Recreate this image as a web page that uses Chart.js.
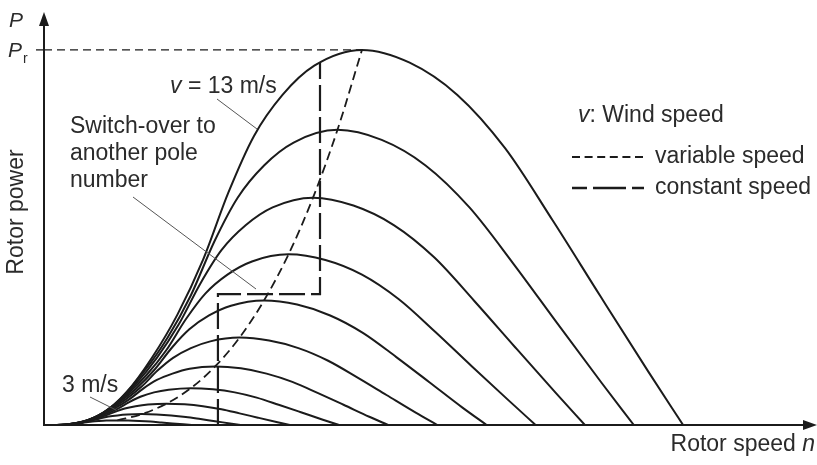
<!DOCTYPE html>
<html>
<head>
<meta charset="utf-8">
<script src="https://cdn.jsdelivr.net/npm/chart.js@4/dist/chart.umd.min.js"></script>
<style>
  html, body { margin: 0; padding: 0; background: #fff; }
  canvas { display: block; }
</style>
</head>
<body>
<canvas id="chart" width="817" height="465"></canvas>
<script>
// Wind speeds (m/s) of the rotor power curves
const windSpeeds = [3, 4, 5, 6, 7, 8, 9, 10, 11, 12, 13];

// Rotor power curves: [rotor speed n, rotor power P], both relative to rated values (%)
const curve3  = [[2.4,0],[4.2,0.03],[6,0.11],[7.8,0.22],[9.7,0.36],[11.5,0.54],[13.4,0.76],[15.2,0.95],[17.3,1.08],[19.6,1.18],[23.1,1.23],[26.5,1.19],[30,1.08],[33.5,0.91],[36.9,0.67],[40.4,0.42],[43.8,0.18],[46.4,0]];
const curve4  = [[3.2,0],[5.5,0.08],[8,0.26],[10.5,0.52],[12.9,0.86],[15.4,1.28],[17.8,1.8],[20.3,2.24],[23.1,2.56],[26.2,2.79],[30.8,2.91],[35.4,2.81],[40,2.56],[44.6,2.15],[49.2,1.59],[53.8,1],[58.5,0.42],[61.8,0]];
const curve5  = [[4,0],[6.9,0.16],[10,0.5],[13.1,1.02],[16.2,1.68],[19.2,2.5],[22.3,3.5],[25.4,4.4],[28.8,5],[32.7,5.45],[38.5,5.69],[44.2,5.5],[50,5],[55.8,4.2],[61.5,3.1],[67.3,1.95],[73.1,0.81],[77.3,0]];
const curve6  = [[4.8,0],[8.3,0.28],[12,0.87],[15.7,1.77],[19.4,2.9],[23.1,4.3],[26.8,6.1],[30.5,7.6],[34.6,8.7],[39.2,9.4],[46.2,9.8],[53.1,9.5],[60,8.7],[66.9,7.3],[73.8,5.4],[80.8,3.4],[87.7,1.4],[92.8,0]];
const curve7  = [[5.6,0],[9.7,0.44],[14,1.37],[18.3,2.8],[22.6,4.6],[26.9,6.9],[31.2,9.7],[35.5,12],[40.4,13.7],[45.8,15],[53.8,15.6],[61.9,15.1],[70,13.7],[78.1,11.5],[86.2,8.5],[94.2,5.4],[102.3,2.2],[108.2,0]];
const curve8  = [[6.4,0],[11.1,0.65],[16,2.05],[20.9,4.2],[25.8,6.9],[30.8,10.3],[35.7,14.5],[40.6,17.9],[46.2,20.5],[52.3,22.3],[61.5,23.3],[70.8,22.5],[80,20.5],[89.2,17.2],[98.5,12.7],[107.7,8],[116.9,3.3],[123.7,0]];
const curve9  = [[7.2,0],[12.5,0.9],[18,2.9],[23.5,6],[29.1,9.8],[34.6,14.6],[40.2,20.6],[45.7,25.5],[51.9,29.2],[58.8,31.8],[69.2,33.2],[79.6,32.1],[90,29.2],[100.4,24.5],[110.8,18.1],[121.2,11.4],[131.5,4.7],[139.2,0]];
const curve10 = [[8,0],[13.8,1.3],[20,4],[26.2,8.2],[32.3,13.4],[38.5,20],[44.6,28.2],[50.8,35.1],[57.7,40.1],[65.4,43.6],[76.9,45.5],[88.5,44],[100,40.1],[111.5,33.6],[123.1,24.8],[134.6,15.6],[146.2,6.5],[154.6,0]];
const curve11 = [[8.8,0],[15.2,1.7],[22,5.3],[28.8,10.9],[35.5,17.9],[42.3,26.7],[49.1,37.6],[55.8,46.6],[63.5,53.3],[71.9,58],[84.6,60.6],[97.3,58.5],[110,53.3],[122.7,44.7],[135.4,33],[148.1,20.8],[160.8,8.7],[170.1,0]];
const curve12 = [[9.6,0],[16.6,2.2],[24,6.9],[31.4,14.2],[38.8,23.2],[46.2,34.6],[53.5,48.8],[60.9,60.6],[69.2,69.2],[78.5,75.3],[92.3,78.7],[106.2,76],[120,69.2],[133.8,58],[147.7,42.9],[161.5,27],[175.4,11.2],[185.5,0]];
const curve13 = [[10.4,0],[18,2.8],[26,8.8],[34,18],[42,29.5],[50,44],[58,62],[66,77],[75,88],[85,95.8],[100,100],[115,96.6],[130,88],[145,73.8],[160,54.5],[175,34.3],[190,14.3],[201,0]];

// Operating curve with variable speed (through the power maxima)
const variableSpeed = [[23.1,1.23],[30.8,2.91],[38.5,5.69],[46.2,9.83],[53.8,15.6],[61.5,23.3],[69.2,33.2],[76.9,45.5],[84.6,60.6],[92.3,78.7],[100,100]];
// Operating curve with constant speed and pole switching
const constantSpeed = [[54.7,0],[54.7,34.9],[86.8,34.9],[86.8,96.7]];
// Rated power line
const ratedLine = [[0,100],[100,100]];

const powerCurves = [curve3, curve4, curve5, curve6, curve7, curve8, curve9, curve10, curve11, curve12, curve13];

const INK = '#1b1b1b';
const TEXT = '#2b2b2b';
const FONT = '"Liberation Sans", Arial, Helvetica, sans-serif';
const SIZE = 23;

const toXY = arr => arr.map(([x, y]) => ({ x, y }));

const datasets = windSpeeds.map((v, i) => ({
  label: v + ' m/s',
  data: toXY(powerCurves[i]),
  borderColor: INK,
  borderWidth: 2,
  pointRadius: 0,
  cubicInterpolationMode: 'monotone',
  fill: false
}));

datasets.push({
  label: 'variable speed',
  data: toXY(variableSpeed),
  borderColor: INK,
  borderWidth: 1.8,
  borderDash: [9, 5],
  pointRadius: 0,
  cubicInterpolationMode: 'monotone',
  fill: false
});
datasets.push({
  label: 'constant speed',
  data: toXY(constantSpeed),
  borderColor: INK,
  borderWidth: 2.2,
  borderDash: [26, 6],
  pointRadius: 0,
  tension: 0,
  fill: false
});
datasets.push({
  label: 'rated power',
  data: toXY(ratedLine),
  borderColor: INK,
  borderWidth: 1.3,
  borderDash: [8, 5],
  pointRadius: 0,
  tension: 0,
  fill: false
});

function italicThenNormal(ctx, italicPart, rest, x, y, size) {
  ctx.font = 'italic ' + size + 'px ' + FONT;
  ctx.fillText(italicPart, x, y);
  const w = ctx.measureText(italicPart).width;
  ctx.font = size + 'px ' + FONT;
  ctx.fillText(rest, x + w, y);
}

function italicRight(ctx, normalPart, italicPart, xRight, yBase, size) {
  ctx.textAlign = 'left';
  ctx.font = 'italic ' + size + 'px ' + FONT;
  const wi = ctx.measureText(italicPart).width;
  ctx.font = size + 'px ' + FONT;
  const wn = ctx.measureText(normalPart).width;
  const start = xRight - wi - wn;
  ctx.fillText(normalPart, start, yBase);
  ctx.font = 'italic ' + size + 'px ' + FONT;
  ctx.fillText(italicPart, start + wn, yBase);
}

const decorations = {
  id: 'decorations',
  afterDatasetsDraw(chart) {
    const { ctx, scales: { x, y } } = chart;
    const x0 = x.getPixelForValue(0);
    const y0 = y.getPixelForValue(0);
    const xEnd = x.getPixelForValue(x.max);
    const yTop = y.getPixelForValue(y.max);
    ctx.save();

    // axes with arrow heads
    ctx.strokeStyle = INK;
    ctx.fillStyle = INK;
    ctx.lineWidth = 2;
    ctx.setLineDash([]);
    ctx.beginPath();
    ctx.moveTo(x0, y0 + 1);
    ctx.lineTo(x0, yTop + 12);
    ctx.moveTo(x0 - 1, y0);
    ctx.lineTo(xEnd - 12, y0);
    ctx.stroke();
    ctx.beginPath();
    ctx.moveTo(x0, yTop);
    ctx.lineTo(x0 - 5, yTop + 14);
    ctx.lineTo(x0 + 5, yTop + 14);
    ctx.closePath();
    ctx.fill();
    ctx.beginPath();
    ctx.moveTo(xEnd, y0);
    ctx.lineTo(xEnd - 14, y0 - 5);
    ctx.lineTo(xEnd - 14, y0 + 5);
    ctx.closePath();
    ctx.fill();

    // rated power tick
    const yR = y.getPixelForValue(100);
    ctx.lineWidth = 1.3;
    ctx.beginPath();
    ctx.moveTo(x0 - 8, yR);
    ctx.lineTo(x0, yR);
    ctx.stroke();

    // leader lines
    ctx.strokeStyle = '#555';
    ctx.lineWidth = 1;
    ctx.beginPath();
    ctx.moveTo(217, 99);  ctx.lineTo(257, 129);
    ctx.moveTo(133, 197); ctx.lineTo(256, 289);
    ctx.moveTo(90, 397);  ctx.lineTo(116, 410);
    ctx.stroke();

    // texts
    ctx.fillStyle = TEXT;
    ctx.textBaseline = 'alphabetic';
    ctx.textAlign = 'left';
    ctx.font = 'italic 21px ' + FONT;
    ctx.fillText('P', 9, 27);
    ctx.fillText('P', 8, 57);
    ctx.font = '14px ' + FONT;
    ctx.fillText('r', 23, 63);

    italicThenNormal(ctx, 'v', ' = 13 m/s', 170, 93, SIZE);
    ctx.font = SIZE + 'px ' + FONT;
    ctx.fillText('Switch-over to', 70, 133);
    ctx.fillText('another pole', 70, 160);
    ctx.fillText('number', 70, 187);
    ctx.fillText('3 m/s', 62, 392);

    // legend
    italicThenNormal(ctx, 'v', ': Wind speed', 578, 122, SIZE);
    ctx.font = SIZE + 'px ' + FONT;
    ctx.textBaseline = 'middle';
    ctx.fillText('variable speed', 655, 157);
    ctx.fillText('constant speed', 655, 188);
    ctx.strokeStyle = INK;
    ctx.lineWidth = 2;
    ctx.setLineDash([8, 4.6]);
    ctx.beginPath();
    ctx.moveTo(572, 157); ctx.lineTo(644, 157);
    ctx.stroke();
    ctx.lineWidth = 2.4;
    ctx.setLineDash([33, 6]);
    ctx.lineDashOffset = 18;
    ctx.beginPath();
    ctx.moveTo(572, 188); ctx.lineTo(644, 188);
    ctx.stroke();
    ctx.setLineDash([]);
    ctx.lineDashOffset = 0;

    // axis titles
    ctx.textBaseline = 'alphabetic';
    italicRight(ctx, 'Rotor speed ', 'n', 815, 451, SIZE);
    ctx.save();
    ctx.translate(23, 212);
    ctx.rotate(-Math.PI / 2);
    ctx.textAlign = 'center';
    ctx.font = SIZE + 'px ' + FONT;
    ctx.fillText('Rotor power', 0, 0);
    ctx.restore();

    ctx.restore();
  }
};

new Chart(document.getElementById('chart'), {
  type: 'line',
  data: { datasets },
  options: {
    responsive: false,
    animation: false,
    layout: { padding: { left: 44, right: 0, top: 12, bottom: 40 } },
    plugins: { legend: { display: false }, tooltip: { enabled: false } },
    scales: {
      x: { type: 'linear', min: 0, max: 243.1, display: false },
      y: { type: 'linear', min: 0, max: 110.1, display: false }
    }
  },
  plugins: [decorations]
});
</script>
</body>
</html>
